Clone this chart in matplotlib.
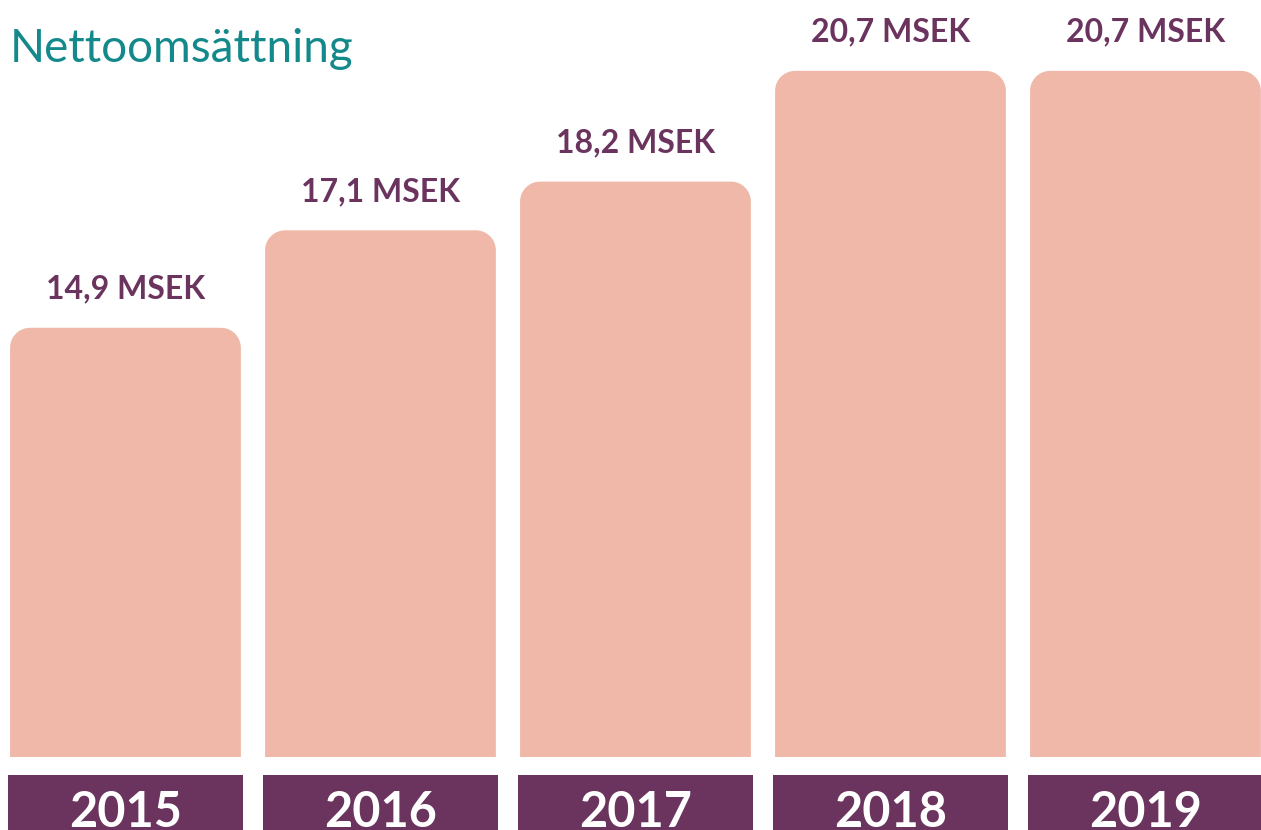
import numpy as np
import matplotlib.pyplot as plt
from matplotlib.patches import Polygon, Rectangle

# data
years = ['2015', '2016', '2017', '2018', '2019']
values = [14.9, 17.1, 18.2, 20.7, 20.7]
labels = ['14,9 MSEK', '17,1 MSEK', '18,2 MSEK', '20,7 MSEK', '20,7 MSEK']

bar_color = '#EFB8A8'
purple = '#6B345E'
teal = '#14898B'

W, H = 1261, 830
fig = plt.figure(figsize=(W / 100, H / 100), dpi=100)
ax = fig.add_axes([0, 73 / H, 1, 757 / H])
ymin, ymax = 5.21, 22.3
ax.set_xlim(-0.492, 4.453)
ax.set_ylim(ymin, ymax)
ax.axis('off')

px_x = 255.0            # pixels per x unit
px_y = 757 / (ymax - ymin)  # pixels per y unit
bw = 0.905
r = 20                  # corner radius in pixels
rx, ry = r / px_x, r / px_y
t = np.linspace(0, np.pi / 2, 20)

for i, (v, lab, yr) in enumerate(zip(values, labels, years)):
    x0, x1 = i - bw / 2, i + bw / 2
    # right corner goes from angle 0 to 90, left from 90 to 180
    right = np.column_stack([x1 - rx + rx * np.cos(t), v - ry + ry * np.sin(t)])
    left = np.column_stack([x0 + rx - rx * np.sin(t), v - ry + ry * np.cos(t)])
    pts = np.vstack([[x1, ymin], right, left, [x0, ymin]])
    ax.add_patch(Polygon(pts, closed=True, facecolor=bar_color, edgecolor='none'))

    ax.annotate(lab, (i, v), xytext=(0, 28), textcoords='offset points',
                ha='center', va='center', fontsize=23, fontweight='bold',
                color=purple, family=['Lato', 'DejaVu Sans'])

    # year box below the bar
    bx0 = i - (bw / 2 + 2 / px_x)
    ax.add_patch(Rectangle((bx0, ymin - 18 / px_y - 80 / px_y), bw + 4 / px_x, 80 / px_y,
                           facecolor=purple, edgecolor='none', clip_on=False))
    ax.text(i, ymin - 55 / px_y, yr, ha='center', va='center', fontsize=35,
            fontweight='bold', color='white', clip_on=False,
            family=['Lato', 'DejaVu Sans'])

fig.text(10 / W, 1 - 62 / H, 'Nettoomsättning', ha='left', va='baseline',
         fontsize=33, color=teal, family=['Lato', 'DejaVu Sans'])

fig.savefig('out.png', dpi=100)
